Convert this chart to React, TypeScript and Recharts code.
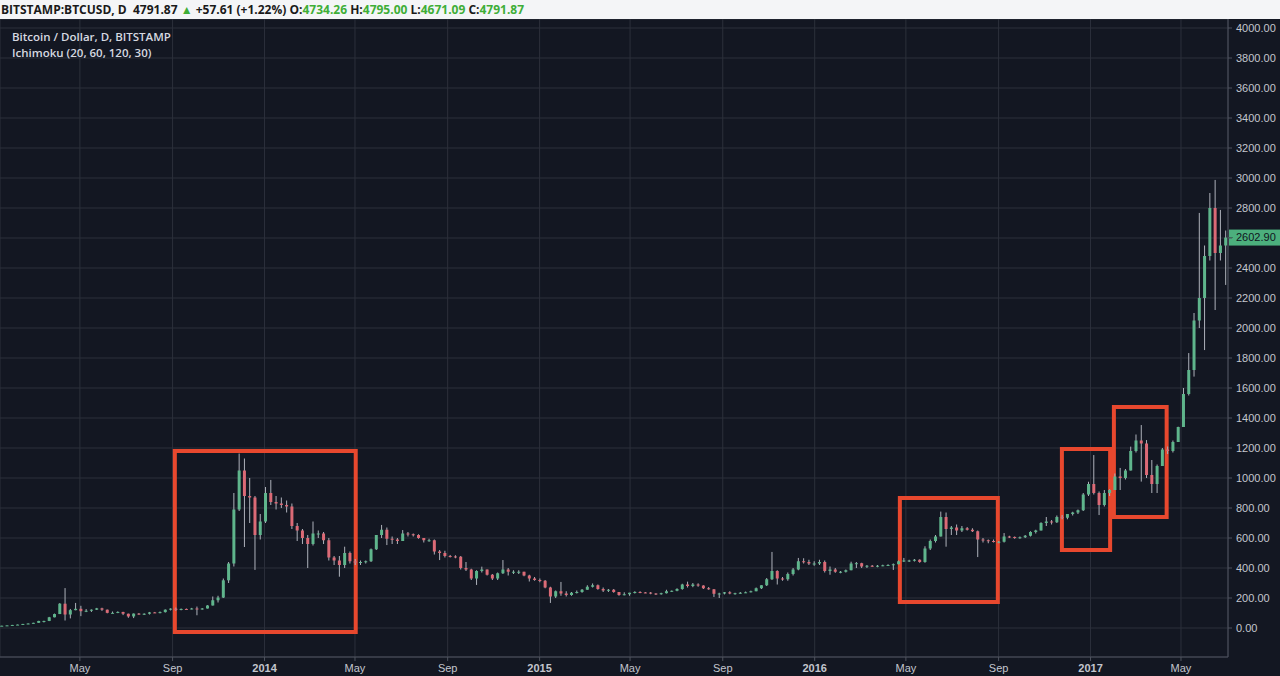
import React from 'react';
import { ComposedChart, Bar, XAxis, YAxis, CartesianGrid, ReferenceArea, ReferenceLine } from 'recharts';

// weekly candles, BITSTAMP BTCUSD
const firstWeek = '2013-01-14';
const firstOpen = 14;

const closes = [
  15.2, 17.5, 20.4, 22.6, 27, 29.9, 34.5, 46.9, 47, 71.5,
  93, 162, 90, 119, 128, 112, 115, 122, 131, 122,
  101, 101, 107, 95, 77, 96, 90, 95, 104, 103,
  106, 122, 129, 120, 127, 126, 130, 125, 130, 150,
  185, 203, 318, 430, 790, 1050, 880, 870, 620, 710,
  900, 840, 830, 820, 810, 680, 650, 600, 560, 630,
  630, 585, 470, 450, 420, 500, 445, 435, 440, 445,
  525, 620, 655, 595, 590, 580, 630, 625, 620, 600,
  585, 585, 510, 500, 480, 477, 475, 400, 390, 330,
  380, 390, 355, 330, 365, 390, 375, 375, 375, 350,
  330, 320, 315, 270, 210, 245, 230, 220, 235, 240,
  255, 275, 285, 260, 250, 255, 240, 220, 225, 235,
  240, 237, 236, 230, 225, 232, 245, 248, 260, 290,
  280, 290, 283, 265, 258, 228, 230, 238, 230, 232,
  235, 238, 245, 265, 285, 325, 380, 330, 325, 360,
  390, 445, 440, 430, 430, 440, 380, 390, 375, 375,
  385, 430, 432, 410, 415, 412, 415, 418, 420, 425,
  445, 450, 450, 455, 440, 530, 580, 610, 740, 660,
  670, 650, 665, 655, 645, 590, 585, 580, 575, 575,
  610, 607, 600, 605, 615, 640, 650, 700, 710, 705,
  740, 735, 760, 770, 785, 890, 960, 900, 820, 900,
  920, 1010, 1000, 1050, 1180, 1250, 1230, 1020, 960, 1080,
  1190, 1180, 1240, 1340, 1560, 1720, 2050, 2200, 2480, 2800,
  2500, 2550, 2602.9,
];

const highs = [
  15.5, 17.8, 20.8, 23, 27.5, 31, 35, 48, 48.5, 74,
  96, 166, 266, 127, 167, 148, 126, 124, 134, 135,
  123, 110, 111, 108, 96, 97, 100, 98, 107, 107,
  110, 124, 131, 136, 130, 130, 134, 143, 133, 152,
  210, 215, 330, 440, 900, 1163, 1130, 1000, 880, 760,
  940, 987, 880, 870, 850, 830, 700, 660, 620, 710,
  650, 640, 600, 480, 480, 542, 510, 460, 450, 450,
  530, 620, 687, 670, 610, 600, 653, 640, 630, 625,
  600, 595, 590, 520, 515, 487, 485, 480, 440, 395,
  385, 409, 390, 360, 370, 453, 400, 385, 385, 375,
  355, 340, 330, 320, 275, 250, 307, 245, 240, 250,
  260, 285, 297, 290, 270, 260, 260, 240, 238, 235,
  245, 245, 240, 240, 232, 235, 255, 250, 265, 295,
  309, 300, 298, 285, 273, 260, 235, 240, 245, 235,
  240, 243, 249, 270, 285, 333, 507, 385, 340, 370,
  400, 467, 465, 455, 445, 455, 450, 410, 400, 380,
  390, 442, 440, 435, 420, 420, 420, 422, 425, 430,
  450, 467, 455, 460, 458, 545, 590, 620, 776, 770,
  680, 690, 680, 673, 665, 650, 600, 590, 590, 580,
  633, 615, 610, 610, 620, 645, 655, 705, 740, 720,
  750, 753, 760, 775, 790, 900, 975, 1153, 910, 920,
  925, 1030, 1067, 1060, 1209, 1290, 1353, 1253, 1120, 1090,
  1200, 1210, 1250, 1342, 1600, 1833, 2100, 2767, 2550, 2900,
  2987, 2787, 2650,
];

const lows = [
  13.8, 15, 17.2, 19.8, 22, 26, 29.5, 34, 37, 46,
  71, 93, 50, 64, 118, 79, 106, 107, 120, 114,
  98, 98, 99, 86, 68, 66, 88, 87, 90, 100,
  98, 103, 117, 115, 118, 124, 124, 85, 122, 130,
  150, 170, 200, 300, 410, 780, 540, 700, 387, 590,
  700, 820, 790, 800, 770, 660, 580, 560, 400, 550,
  600, 560, 450, 420, 342, 400, 430, 420, 420, 430,
  440, 520, 600, 553, 560, 560, 580, 610, 610, 595,
  570, 575, 490, 453, 470, 470, 465, 390, 380, 320,
  287, 370, 350, 320, 320, 360, 350, 360, 360, 345,
  310, 315, 305, 265, 167, 200, 215, 210, 215, 230,
  235, 255, 270, 255, 240, 240, 235, 215, 218, 215,
  230, 232, 232, 225, 220, 222, 230, 240, 245, 255,
  270, 272, 275, 260, 255, 207, 200, 224, 225, 222,
  228, 233, 237, 245, 260, 280, 320, 290, 315, 315,
  350, 385, 430, 420, 415, 420, 370, 355, 368, 365,
  370, 385, 400, 400, 400, 408, 405, 412, 415, 387,
  425, 440, 440, 443, 435, 435, 520, 570, 610, 542,
  620, 620, 640, 650, 640, 473, 570, 565, 570, 565,
  570, 600, 595, 595, 600, 610, 630, 650, 680, 690,
  700, 725, 725, 750, 760, 780, 880, 890, 753, 810,
  880, 920, 920, 990, 1050, 1170, 976, 1000, 900, 900,
  1080, 1160, 1170, 1240, 1340, 1550, 1676, 2000, 1853, 2450,
  2120, 2450, 2287,
];

const xTickDates = [
  '2013-05-01', '2013-09-01', '2014-01-01', '2014-05-01', '2014-09-01', '2015-01-01', '2015-05-01',
  '2015-09-01', '2016-01-01', '2016-05-01', '2016-09-01', '2017-01-01', '2017-05-01',
];
const xTickLabels = ['May', 'Sep', '2014', 'May', 'Sep', '2015', 'May', 'Sep', '2016', 'May', 'Sep', '2017', 'May'];

const yTicks = [0, 200, 400, 600, 800, 1000, 1200, 1400, 1600, 1800, 2000, 2200, 2400, 2600, 2800, 3000, 3200, 3400, 3600, 3800, 4000];
const lastPrice = 2602.9;

// red boxes drawn on the chart
const boxFrom = ['2013-09-04', '2016-04-23', '2016-11-24', '2017-02-01'];
const boxTo = ['2014-05-02', '2016-08-31', '2017-01-27', '2017-04-12'];
const boxLow = [-27, 173, 520, 740];
const boxHigh = [1180, 867, 1193, 1473];

const BG = '#131722';
const GRID = '#2c303b';
const AXIS = '#4f535e';
const TEXT = '#c3c6ce';
const UP = '#5fb58c';
const DOWN = '#db6a76';
const WICK = '#aeb2bb';
const BOX = '#e8482e';
const FONT = "'Liberation Sans', Arial, sans-serif";

const DAY = 86400000;
const day = (s: string) => (Date.parse(s) - Date.parse('2014-01-01')) / DAY;

const data = closes.map((c, i) => ({
  t: day(firstWeek) + 7 * i + 3.5,
  open: i === 0 ? firstOpen : closes[i - 1],
  high: highs[i],
  low: lows[i],
  close: c,
  range: [lows[i], highs[i]],
}));

const xTicks = xTickDates.map(day);

function Candle(props: any) {
  const { x, y, width, height, payload } = props;
  if (x == null || !payload) return null;
  const { open, close, high, low } = payload;
  const top = Math.min(y, y + height);
  const h = Math.abs(height);
  const k = high > low ? h / (high - low) : 0;
  const yO = top + (high - open) * k;
  const yC = top + (high - close) * k;
  const cx = x + width / 2;
  return (
    <g>
      <line x1={cx} x2={cx} y1={top} y2={top + h} stroke={WICK} strokeWidth={1} />
      <rect x={x} y={Math.min(yO, yC)} width={width} height={Math.max(1, Math.abs(yO - yC))} fill={close >= open ? UP : DOWN} />
    </g>
  );
}

function XTick(props: any) {
  const { x, y, payload } = props;
  const label = xTickLabels[xTicks.indexOf(payload.value)] ?? '';
  const year = /^\d{4}$/.test(label);
  return (
    <text x={x} y={y} dy="0.71em" textAnchor="middle" fill={TEXT} fontSize={11}
      fontFamily={FONT} fontWeight={year ? 'bold' : 'normal'}>
      {label}
    </text>
  );
}

// the price tag covers the tick label closest to the last price
function YTick(props: any) {
  const { x, y, payload } = props;
  if (Math.abs(payload.value - lastPrice) < 50) return null;
  return (
    <text x={x} y={y} dy="0.35em" textAnchor="start" fill={TEXT} fontSize={11} fontFamily={FONT}>
      {Number(payload.value).toFixed(2)}
    </text>
  );
}

function PriceTag(props: any) {
  const vb = props.viewBox || {};
  const x = (vb.x ?? 0) + (vb.width ?? 0);
  const y = vb.y ?? 0;
  return (
    <g>
      <rect x={x + 1} y={y - 8} width={52} height={16} fill="#4caf7d" />
      <line x1={x} x2={x + 5} y1={y} y2={y} stroke="#2f7f58" />
      <text x={x + 8} y={y} dy="0.35em" fill="#10151e" fontSize={11} fontFamily={FONT}>
        {lastPrice.toFixed(2)}
      </text>
    </g>
  );
}

export default function App() {
  return (
    <div style={{ position: 'absolute', left: 0, top: 0, width: 1280, height: 676, background: BG, overflow: 'hidden' }}>
      <div style={{ height: 19, background: '#f4f5f7', lineHeight: '19px', paddingLeft: 1, fontFamily: "'Open Sans', sans-serif", fontWeight: 700, fontSize: 12, color: '#1a1a1a', whiteSpace: 'nowrap' }}>
        BITSTAMP:BTCUSD, D&nbsp; 4791.87 <span style={{ color: '#3fae37' }}>▲</span> +57.61 (+1.22%) O:<span style={{ color: '#3fae37' }}>4734.26</span> H:<span style={{ color: '#3fae37' }}>4795.00</span> L:<span style={{ color: '#3fae37' }}>4671.09</span> C:<span style={{ color: '#3fae37' }}>4791.87</span>
      </div>
      <ComposedChart width={1280} height={657} data={data} margin={{ top: 0, right: 0, bottom: 0, left: 0 }}>
        <CartesianGrid stroke={GRID} />
        <XAxis
          dataKey="t"
          type="number"
          domain={[-351, 1278.4]}
          allowDataOverflow
          ticks={xTicks}
          tick={<XTick />}
          height={19}
          stroke={AXIS}
          tickSize={4}
          tickMargin={3}
        />
        <YAxis
          orientation="right"
          type="number"
          domain={[-193.33, 4060]}
          allowDataOverflow
          ticks={yTicks}
          width={52}
          stroke={AXIS}
          tickSize={4}
          tickMargin={4}
          tick={<YTick />}
        />
        <Bar dataKey="range" barSize={3} shape={<Candle />} isAnimationActive={false} />
        {boxFrom.map((f, i) => (
          <ReferenceArea key={f} x1={day(f)} x2={day(boxTo[i])} y1={boxLow[i]} y2={boxHigh[i]}
            fill="none" fillOpacity={0} stroke={BOX} strokeWidth={4} strokeOpacity={1} />
        ))}
        <ReferenceLine y={lastPrice} stroke="none" label={<PriceTag />} />
      </ComposedChart>
      <div style={{ position: 'absolute', left: 12, top: 29, color: '#d6d9e0', fontFamily: "'Open Sans', sans-serif", fontWeight: 600, fontSize: 11.5, lineHeight: '16px' }}>
        <div>Bitcoin / Dollar, D, BITSTAMP</div>
        <div>Ichimoku (20, 60, 120, 30)</div>
      </div>
    </div>
  );
}
